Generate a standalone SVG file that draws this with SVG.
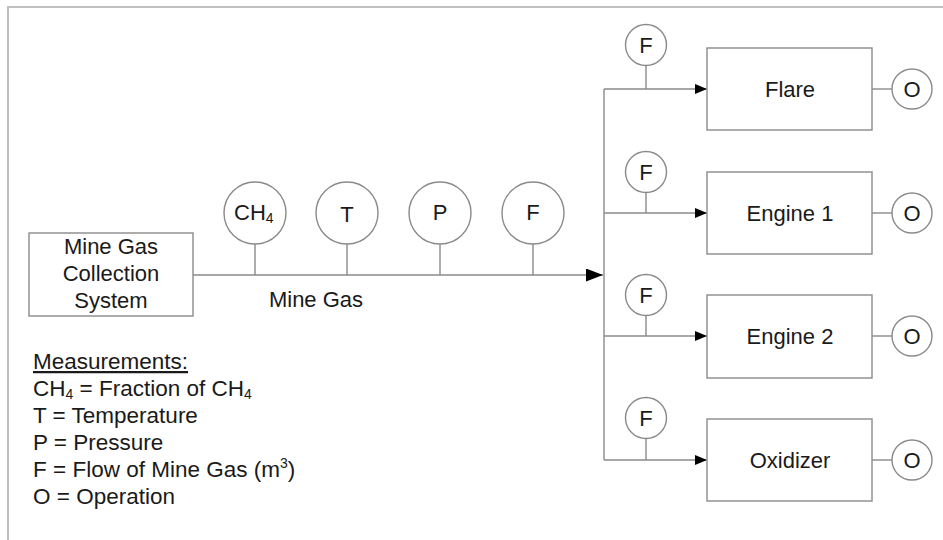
<svg xmlns="http://www.w3.org/2000/svg" width="943" height="540" viewBox="0 0 943 540">
<style>
text{font-family:"Liberation Sans",Arial,sans-serif;font-size:22px;fill:#1a1a1a}
.c{text-anchor:middle}
.lg{font-size:22.5px}
.box{fill:#fff;stroke:#8a8a8a;stroke-width:1.4}
.ln{stroke:#8a8a8a;stroke-width:1.4;fill:none}
.frame{stroke:#c0c0c0;stroke-width:2;fill:none}
</style>
<defs>
<marker id="big" markerWidth="17" markerHeight="13" refX="17" refY="6.5" orient="auto" markerUnits="userSpaceOnUse"><path d="M0,0 L17,6.5 L0,13 Z" fill="#000"/></marker>
<marker id="sm" markerWidth="12" markerHeight="10" refX="12" refY="5" orient="auto" markerUnits="userSpaceOnUse"><path d="M0,0 L12,5 L0,10 Z" fill="#000"/></marker>
</defs>
<path class="frame" d="M8,540 L8,7 L943,7"/>
<g id="connectors">
<line class="ln" x1="193" y1="275" x2="603" y2="275" marker-end="url(#big)"/>
<line class="ln" x1="604" y1="89" x2="604" y2="460"/>
<line class="ln" x1="604" y1="89" x2="707" y2="89" marker-end="url(#sm)"/>
<line class="ln" x1="604" y1="213" x2="707" y2="213" marker-end="url(#sm)"/>
<line class="ln" x1="604" y1="336" x2="707" y2="336" marker-end="url(#sm)"/>
<line class="ln" x1="604" y1="460" x2="707" y2="460" marker-end="url(#sm)"/>
<line class="ln" x1="255" y1="244" x2="255" y2="275"/>
<line class="ln" x1="347" y1="244" x2="347" y2="275"/>
<line class="ln" x1="440" y1="244" x2="440" y2="275"/>
<line class="ln" x1="533" y1="244" x2="533" y2="275"/>
<line class="ln" x1="646" y1="66" x2="646" y2="89"/>
<line class="ln" x1="646" y1="192" x2="646" y2="213"/>
<line class="ln" x1="646" y1="315" x2="646" y2="336"/>
<line class="ln" x1="646" y1="439" x2="646" y2="460"/>
<line class="ln" x1="872" y1="89" x2="892" y2="89"/>
<line class="ln" x1="872" y1="213" x2="892" y2="213"/>
<line class="ln" x1="872" y1="336" x2="892" y2="336"/>
<line class="ln" x1="872" y1="460" x2="892" y2="460"/>
</g>
<g id="source">
<rect class="box" x="29" y="233" width="164" height="83"/>
<text class="c" x="111" y="254">Mine Gas</text>
<text class="c" x="111" y="281">Collection</text>
<text class="c" x="111" y="308">System</text>
</g>
<text class="c" x="316" y="307">Mine Gas</text>
<g id="s-ch4"><circle class="box" cx="255" cy="213" r="31"/><text x="234" y="220" font-size="20">CH<tspan font-size="14" dy="3">4</tspan></text></g>
<g id="s-t"><circle class="box" cx="347" cy="213" r="31"/><text class="c" x="347" y="222" font-size="25">T</text></g>
<g id="s-p"><circle class="box" cx="440" cy="213" r="31"/><text class="c" x="440" y="220" font-size="20">P</text></g>
<g id="s-f"><circle class="box" cx="533" cy="213" r="31"/><text class="c" x="533" y="220" font-size="20">F</text></g>
<g id="flare"><rect class="box" x="707" y="48" width="165" height="82"/><text class="c" x="790" y="97">Flare</text></g>
<g id="engine1"><rect class="box" x="707" y="172" width="165" height="82"/><text class="c" x="790" y="221">Engine 1</text></g>
<g id="engine2"><rect class="box" x="707" y="295" width="165" height="83"/><text class="c" x="790" y="344">Engine 2</text></g>
<g id="oxidizer"><rect class="box" x="707" y="419" width="165" height="82"/><text class="c" x="790" y="468">Oxidizer</text></g>
<g id="f1"><circle class="box" cx="646" cy="45" r="20.5"/><text class="c" x="646" y="53">F</text></g>
<g id="f2"><circle class="box" cx="646" cy="172" r="20.5"/><text class="c" x="646" y="180">F</text></g>
<g id="f3"><circle class="box" cx="646" cy="295" r="20.5"/><text class="c" x="646" y="303">F</text></g>
<g id="f4"><circle class="box" cx="646" cy="418" r="20.5"/><text class="c" x="646" y="426">F</text></g>
<g id="o1"><circle class="box" cx="912" cy="89" r="20"/><text class="c" x="912" y="97">O</text></g>
<g id="o2"><circle class="box" cx="912" cy="213" r="20"/><text class="c" x="912" y="221">O</text></g>
<g id="o3"><circle class="box" cx="912" cy="336" r="20"/><text class="c" x="912" y="344">O</text></g>
<g id="o4"><circle class="box" cx="912" cy="460" r="20"/><text class="c" x="912" y="468">O</text></g>
<g id="legend">
<text class="lg" x="33" y="369" text-decoration="underline">Measurements:</text>
<text class="lg" x="33" y="396">CH<tspan font-size="14" dy="3">4</tspan><tspan dy="-3"> = Fraction of CH</tspan><tspan font-size="14" dy="3">4</tspan></text>
<text class="lg" x="33" y="423">T = Temperature</text>
<text class="lg" x="33" y="450">P = Pressure</text>
<text class="lg" x="33" y="477">F = Flow of Mine Gas (m<tspan font-size="14" dy="-9">3</tspan><tspan dy="9">)</tspan></text>
<text class="lg" x="33" y="504">O = Operation</text>
</g>
</svg>
